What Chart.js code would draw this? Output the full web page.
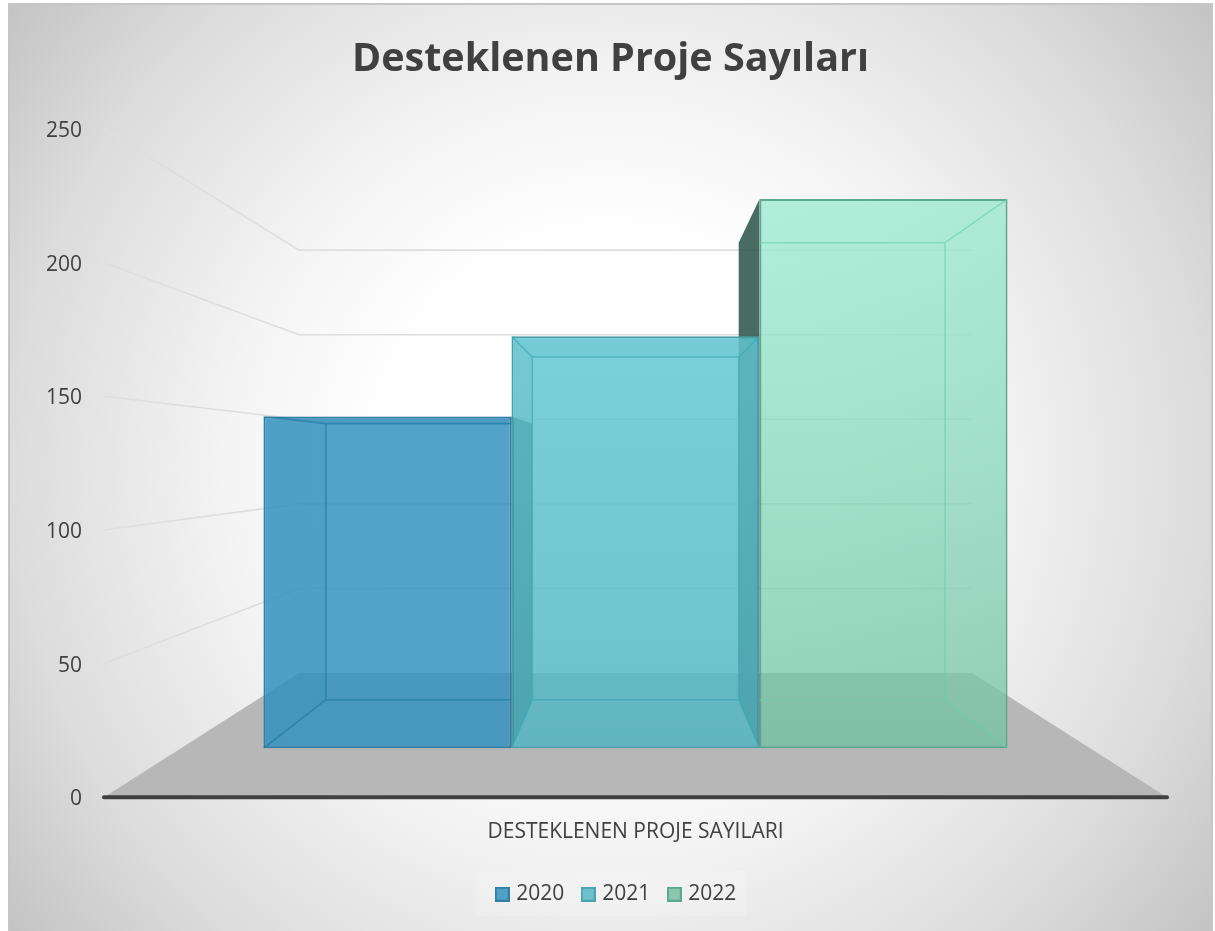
<!DOCTYPE html>
<html lang="tr">
<head>
<meta charset="utf-8">
<title>Desteklenen Proje Sayıları</title>
<script src="https://cdn.jsdelivr.net/npm/chart.js@4"></script>
<style>html,body{margin:0;padding:0;background:#fff}canvas{display:block}</style>
</head>
<body>
<canvas id="c" width="1215" height="931"></canvas>
<script>
const categories = ['DESTEKLENEN PROJE SAYILARI'];
const seriesNames = ['2020', '2021', '2022'];
const values2020 = [145];
const values2021 = [180];
const values2022 = [240];
const titleText = 'Desteklenen Proje Sayıları';

const FONT = '"Open Sans", sans-serif';
const TEXT = '#404040';
const DEPTH_BACK = 0.633;   // back wall scale relative to the axis plane
const DEPTH_RATIO = 0.832;  // bar back face relative to bar front face
const VANISH_Y = 459;

const looks = [
  { top:[52,146,193], bottom:[52,146,193], a:.85, edge:'#2f7fa6', inner:'rgba(38,125,165,.75)', side:'rgba(40,120,170,.03)', topFace:'rgba(30,110,160,.1)', chip:'#4f9fc6' },
  { top:[106,206,219], bottom:[83,181,195], a:.85, edge:'#4aa3ad', inner:'rgba(60,165,180,.6)', side:'rgba(40,110,125,.07)', topFace:'rgba(40,130,130,.06)', chip:'#6fc0cc' },
  { top:[152,235,208], bottom:[112,193,163], a:.75, edge:'#5aa88f', inner:'rgba(110,205,170,.6)', side:'rgba(255,255,255,.02)', topFace:'rgba(255,255,255,.02)', chip:'#8cc5ae' }
];

function rgba(c, a) { return `rgba(${c[0]},${c[1]},${c[2]},${a})`; }

function chipCanvas(look) {
  const cv = document.createElement('canvas');
  cv.width = 15; cv.height = 15;
  const g = cv.getContext('2d');
  g.fillStyle = look.chip; g.fillRect(0, 0, 15, 15);
  g.strokeStyle = look.edge; g.lineWidth = 2; g.strokeRect(1, 1, 13, 13);
  return cv;
}

function frontFill(i) {
  return (ctx) => {
    const chart = ctx.chart, area = chart.chartArea;
    if (!area) return rgba(looks[i].top, looks[i].a);
    const g = chart.ctx.createLinearGradient(0, chart.scales.yFront.getPixelForValue(240), 0, chart.scales.yFront.getPixelForValue(0));
    g.addColorStop(0, rgba(looks[i].top, looks[i].a));
    g.addColorStop(1, rgba(looks[i].bottom, looks[i].a));
    return g;
  };
}

function poly(c, pts) {
  c.beginPath();
  pts.forEach((p, i) => i ? c.lineTo(p[0], p[1]) : c.moveTo(p[0], p[1]));
  c.closePath();
}

function barBox(bar, cx) {
  const hw = bar.width / 2;
  const l = bar.x - hw, r = bar.x + hw, t = bar.y, b = bar.base;
  const bk = (x, y) => [cx + (x - cx) * DEPTH_RATIO, VANISH_Y + (y - VANISH_Y) * DEPTH_RATIO];
  return { l, r, t, b, tl: bk(l, t), tr: bk(r, t), bl: bk(l, b), br: bk(r, b) };
}

const scene = {
  id: 'scene',
  afterLayout(chart) {
    chart.legend.left += 7;
    chart.legend.right += 7;
  },
  beforeDraw(chart) {
    const c = chart.ctx;
    c.save();
    c.fillStyle = '#fff';
    c.fillRect(0, 0, chart.width, chart.height);
    const cx = 610, cy = 467, R = 757;
    const g = c.createRadialGradient(cx, cy, 0, cx, cy, R);
    g.addColorStop(0, '#ffffff');
    g.addColorStop(0.3, '#ffffff');
    g.addColorStop(0.5, '#f4f4f4');
    g.addColorStop(0.79, '#dcdcdc');
    g.addColorStop(1, '#c4c4c4');
    c.fillStyle = g;
    c.fillRect(8, 3, 1205, 928);
    c.strokeStyle = '#c6c6c6';
    c.lineWidth = 2;
    c.strokeRect(9, 4, 1203, 930);
    c.fillStyle = 'rgba(255,255,255,.18)';
    c.fillRect(476, 871, 270, 45);
    c.restore();
  },
  beforeDatasetsDraw(chart) {
    const c = chart.ctx, y = chart.scales.y, area = chart.chartArea;
    const cx = (area.left + area.right) / 2;
    const backX = (px) => cx + (px - cx) * DEPTH_BACK;
    const backY = (py) => VANISH_Y + (py - VANISH_Y) * DEPTH_BACK;
    c.save();
    // floor
    const y0 = y.getPixelForValue(0);
    c.fillStyle = '#b7b7b7';
    poly(c, [[area.left, y0], [area.right, y0], [backX(area.right), backY(y0)], [backX(area.left), backY(y0)]]);
    c.fill();
    // wall gridlines
    c.strokeStyle = '#dedede';
    c.lineWidth = 1.6;
    y.ticks.forEach((t) => {
      if (t.value === 0) return;
      const py = y.getPixelForValue(t.value);
      c.beginPath();
      c.moveTo(area.left, py);
      c.lineTo(backX(area.left), backY(py));
      c.lineTo(backX(area.right), backY(py));
      c.stroke();
    });
    // outer walls of bars, seen beside their front faces
    chart.getSortedVisibleDatasetMetas().forEach((meta) => {
      meta.data.forEach((bar) => {
        const b = barBox(bar, cx);
        c.fillStyle = 'rgba(48,88,76,.88)';
        if (b.tl[0] < b.l) {
          poly(c, [[b.l, b.t], b.tl, b.bl, [b.l, b.b]]);
          c.fill();
        }
        if (b.tr[0] > b.r) {
          poly(c, [[b.r, b.t], b.tr, b.br, [b.r, b.b]]);
          c.fill();
        }
      });
    });
    c.restore();
  },
  afterDatasetsDraw(chart) {
    const c = chart.ctx, area = chart.chartArea;
    const cx = (area.left + area.right) / 2;
    chart.getSortedVisibleDatasetMetas().forEach((meta) => {
      const look = looks[meta.index];
      meta.data.forEach((bar) => {
        const b = barBox(bar, cx);
        c.save();
        c.beginPath();
        c.rect(b.l, b.t, b.r - b.l, b.b - b.t);
        c.clip();
        // inner faces
        c.fillStyle = look.side;
        if (b.tl[0] > b.l) { poly(c, [[b.l, b.t], b.tl, b.bl, [b.l, b.b]]); c.fill(); }
        if (b.tr[0] < b.r) { poly(c, [[b.r, b.t], b.tr, b.br, [b.r, b.b]]); c.fill(); }
        c.fillStyle = look.topFace;
        poly(c, [[b.l, b.t], [b.r, b.t], b.tr, b.tl]);
        c.fill();
        // inner edges
        c.strokeStyle = look.inner;
        c.lineWidth = 1.6;
        c.beginPath();
        c.moveTo(b.tl[0], b.tl[1]); c.lineTo(b.tr[0], b.tr[1]); c.lineTo(b.br[0], b.br[1]);
        c.lineTo(b.bl[0], b.bl[1]); c.lineTo(b.tl[0], b.tl[1]);
        if (b.tl[0] > b.l) { c.moveTo(b.l, b.t); c.lineTo(b.tl[0], b.tl[1]); c.moveTo(b.l, b.b); c.lineTo(b.bl[0], b.bl[1]); }
        if (b.tr[0] < b.r) { c.moveTo(b.r, b.t); c.lineTo(b.tr[0], b.tr[1]); c.moveTo(b.r, b.b); c.lineTo(b.br[0], b.br[1]); }
        c.stroke();
        c.restore();
      });
    });
    // category axis line
    c.save();
    c.strokeStyle = '#404040';
    c.lineWidth = 4;
    c.lineCap = 'round';
    const y0 = chart.scales.y.getPixelForValue(0);
    c.beginPath();
    c.moveTo(area.left, y0);
    c.lineTo(area.right, y0);
    c.stroke();
    c.restore();
  }
};

const dataSeries = [values2020, values2021, values2022];

new Chart(document.getElementById('c'), {
  type: 'bar',
  data: {
    labels: categories,
    datasets: seriesNames.map((name, i) => ({
      label: name,
      data: dataSeries[i],
      yAxisID: 'yFront',
      backgroundColor: frontFill(i),
      borderColor: looks[i].edge,
      borderWidth: 2,
      borderSkipped: false,
      inflateAmount: 0,
      categoryPercentage: 0.7,
      barPercentage: 1
    }))
  },
  options: {
    responsive: false,
    animation: false,
    devicePixelRatio: 1,
    layout: { autoPadding: false, padding: { left: 8, right: 2, top: 0, bottom: 16.25 } },
    plugins: {
      title: {
        display: true,
        text: titleText,
        color: TEXT,
        font: { family: FONT, size: 39.5, weight: 'bold', lineHeight: 1.2 },
        padding: { top: 36.1, bottom: 45.5 }
      },
      legend: {
        display: true,
        position: 'bottom',
        labels: {
          color: TEXT,
          font: { family: FONT, size: 21 },
          padding: 20.5,
          usePointStyle: true,
          pointStyleWidth: 7,
          generateLabels: () => seriesNames.map((name, i) => ({
            text: name,
            pointStyle: chipCanvas(looks[i]),
            datasetIndex: i,
            hidden: false,
            lineWidth: 0,
            fontColor: TEXT
          }))
        }
      },
      tooltip: { enabled: false }
    },
    scales: {
      x: {
        grid: { display: false, drawTicks: false },
        border: { display: false },
        ticks: { color: TEXT, padding: 22, font: { family: FONT, size: 21 }, maxRotation: 0 },
        afterFit(s) { s.height = 66; }
      },
      y: {
        position: 'left',
        min: 0,
        max: 250,
        grid: { display: false, drawTicks: false },
        border: { display: false },
        ticks: { stepSize: 50, color: TEXT, padding: 22, labelOffset: 2, font: { family: FONT, size: 21 } },
        afterFit(s) { s.width = 96; }
      },
      yFront: {
        position: 'right',
        min: -21.4,
        max: 270.6,
        grid: { display: false, drawTicks: false },
        border: { display: false },
        ticks: { display: false },
        afterFit(s) { s.width = 46; }
      }
    }
  },
  plugins: [scene]
});
</script>
</body>
</html>
